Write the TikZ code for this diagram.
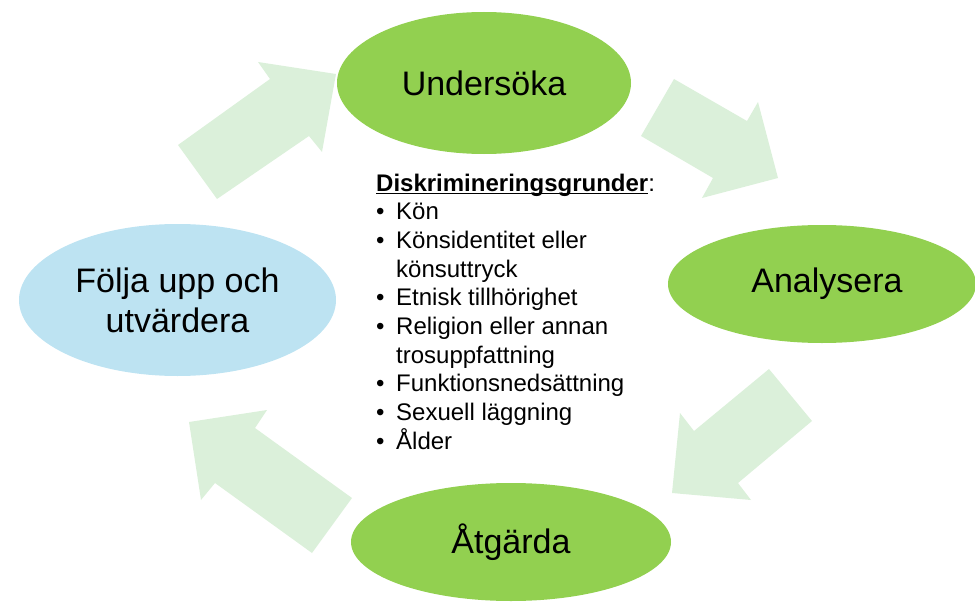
\documentclass[tikz,border=0pt]{standalone}
\usepackage{fontspec}
\setmainfont{Liberation Sans}
\usetikzlibrary{shapes.geometric}
\definecolor{okgreen}{HTML}{92D050}
\definecolor{okblue}{HTML}{BDE3F2}
\definecolor{arrowgreen}{HTML}{DBF0DA}
\newcommand\ulbold[1]{\sbox0{\textbf{#1}}\rlap{\rule[-3pt]{\wd0}{1.5pt}}\usebox0}
\tikzset{
  bigell/.style={ellipse, inner sep=0pt, font=\fontsize{34}{40}\selectfont, align=center, text=black},
  greenell/.style={bigell, fill=okgreen},
  blueell/.style={bigell, fill=okblue},
  bigarrow/.style={fill=arrowgreen, draw=none},
  listline/.style={anchor=base west, inner sep=0pt, font=\fontsize{24}{28.7}\selectfont}
}
\begin{document}
\begin{tikzpicture}[x=1pt, y=-1pt]
\useasboundingbox (0,0) rectangle (975,602);
% arrows
\fill[bigarrow] (178,145) -- (270,79) -- (258,62) -- (336,74) -- (322,152) -- (309,136) -- (217,199) -- cycle;
\fill[bigarrow] (674,79) -- (747,121) -- (758,102) -- (778,178) -- (702,198) -- (713,178) -- (641,136) -- cycle;
\fill[bigarrow] (769,369) -- (812,421) -- (738,483) -- (751,500) -- (672,493) -- (680,413) -- (694,431) -- cycle;
\fill[bigarrow] (352,498) -- (255,428) -- (267,410) -- (189,422) -- (201,500) -- (215,483) -- (312,553) -- cycle;
% ellipses
\node[greenell, minimum width=294pt, minimum height=142pt] (und) at (484,83) {Undersöka};
\node[greenell, minimum width=308pt, minimum height=118pt] (ana) at (822,284) {\hspace*{10pt}Analysera};
\node[greenell, minimum width=320pt, minimum height=118pt] (atg) at (511,542) {\raisebox{-3pt}{Åtgärda}};
\node[blueell, minimum width=317pt, minimum height=152pt] (fol) at (177.5,300) {Följa upp och\\utvärdera};
% list
\node[listline] (l0) at (376,191) {\ulbold{Diskrimineringsgrunder}:};
\node[listline] (l1) at (376,219.7) {\makebox[20pt][l]{•}Kön};
\node[listline] (l2) at (376,248.4) {\makebox[20pt][l]{•}Könsidentitet eller};
\node[listline] (l3) at (376,277.1) {\makebox[20pt][l]{}könsuttryck};
\node[listline] (l4) at (376,305.8) {\makebox[20pt][l]{•}Etnisk tillhörighet};
\node[listline] (l5) at (376,334.5) {\makebox[20pt][l]{•}Religion eller annan};
\node[listline] (l6) at (376,363.2) {\makebox[20pt][l]{}trosuppfattning};
\node[listline] (l7) at (376,391.9) {\makebox[20pt][l]{•}Funktionsnedsättning};
\node[listline] (l8) at (376,420.6) {\makebox[20pt][l]{•}Sexuell läggning};
\node[listline] (l9) at (376,449.3) {\makebox[20pt][l]{•}Ålder};
\end{tikzpicture}
\end{document}
